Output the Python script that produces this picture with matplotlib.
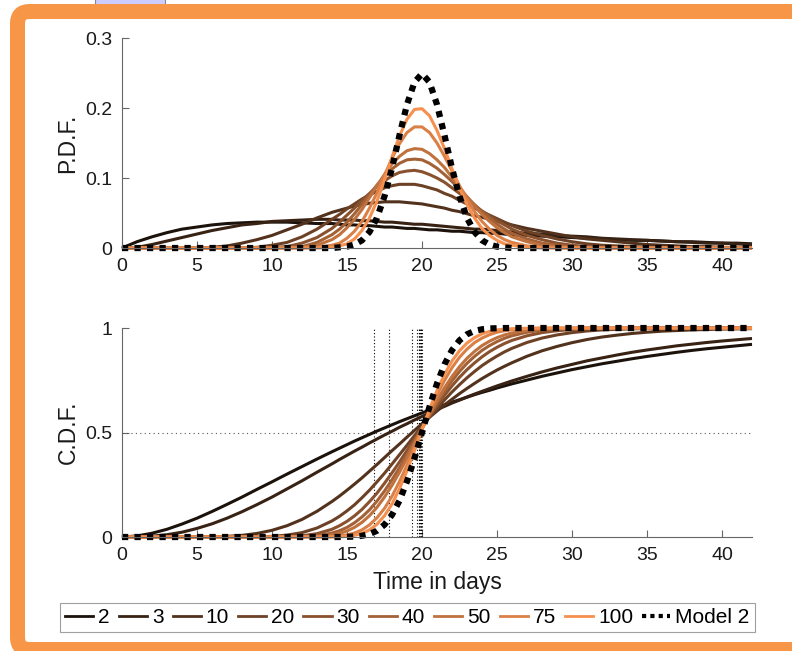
import numpy as np
import matplotlib
matplotlib.use('Agg')
import matplotlib.pyplot as plt
from matplotlib.lines import Line2D
from matplotlib.patches import FancyBboxPatch, Rectangle

plt.rcParams['font.family'] = ['Liberation Sans', 'DejaVu Sans']

x_days = [0, 1, 2, 3, 4, 5, 6, 7, 8, 9, 10, 11, 12, 13, 14, 14.5, 15, 15.5, 16, 16.5, 17, 17.5, 18, 18.5, 19, 19.5, 20, 20.5, 21, 21.5, 22, 22.5, 23, 23.5, 24, 24.5, 25, 25.5, 26, 27, 28, 29, 30, 31, 32, 33, 34, 35, 36, 37, 38, 39, 40, 41, 42]

# P.D.F. values in thousandths
pdf_2 = [0, 9, 16, 22, 27, 30, 33, 35, 36, 37, 37, 37, 36, 35, 35, 34, 33, 33, 32, 32, 31, 30, 30, 29, 28, 28, 27, 26, 26, 25, 24, 24, 23, 22, 22, 21, 21, 20, 19, 18, 17, 16, 15, 14, 13, 12, 11, 11, 10, 9, 9, 8, 7, 7, 6]
pdf_3 = [0, 1, 5, 10, 15, 20, 25, 29, 33, 35, 38, 39, 40, 41, 41, 40, 40, 40, 39, 39, 38, 37, 37, 36, 35, 34, 34, 33, 32, 31, 30, 29, 28, 27, 27, 26, 25, 24, 23, 21, 20, 18, 17, 16, 14, 13, 12, 11, 10, 9, 8, 7, 7, 6, 5]
pdf_10 = [0, 0, 0, 0, 0, 0, 1, 3, 7, 12, 18, 26, 34, 43, 51, 54, 57, 60, 62, 64, 65, 66, 66, 66, 65, 64, 63, 61, 59, 57, 54, 52, 49, 46, 44, 41, 38, 36, 33, 28, 24, 20, 16, 13, 11, 9, 7, 5, 4, 3, 2, 2, 1, 1, 1]
pdf_20 = [0, 0, 0, 0, 0, 0, 0, 0, 0, 1, 4, 8, 16, 27, 41, 48, 56, 63, 70, 76, 81, 86, 89, 91, 91, 91, 89, 86, 83, 78, 74, 68, 63, 57, 52, 47, 42, 37, 32, 24, 18, 13, 9, 6, 4, 3, 2, 1, 1, 0, 0, 0, 0, 0, 0]
pdf_30 = [0, 0, 0, 0, 0, 0, 0, 0, 0, 0, 1, 2, 7, 15, 28, 37, 47, 57, 68, 78, 88, 96, 103, 108, 110, 111, 109, 105, 100, 94, 86, 78, 70, 61, 53, 46, 39, 33, 27, 18, 12, 7, 4, 2, 1, 1, 0, 0, 0, 0, 0, 0, 0, 0, 0]
pdf_40 = [0, 0, 0, 0, 0, 0, 0, 0, 0, 0, 0, 1, 2, 8, 19, 27, 37, 49, 62, 76, 90, 102, 113, 121, 126, 127, 126, 121, 114, 105, 95, 84, 73, 62, 52, 43, 34, 27, 21, 13, 7, 4, 2, 1, 0, 0, 0, 0, 0, 0, 0, 0, 0, 0, 0]
pdf_50 = [0, 0, 0, 0, 0, 0, 0, 0, 0, 0, 0, 0, 1, 4, 12, 19, 29, 41, 55, 72, 89, 105, 120, 131, 139, 142, 141, 135, 126, 115, 101, 87, 73, 60, 48, 38, 29, 22, 16, 9, 4, 2, 1, 0, 0, 0, 0, 0, 0, 0, 0, 0, 0, 0, 0]
pdf_75 = [0, 0, 0, 0, 0, 0, 0, 0, 0, 0, 0, 0, 0, 1, 4, 7, 14, 24, 38, 57, 79, 104, 128, 149, 165, 173, 173, 165, 150, 131, 110, 89, 70, 52, 38, 27, 18, 12, 8, 3, 1, 0, 0, 0, 0, 0, 0, 0, 0, 0, 0, 0, 0, 0, 0]
pdf_100 = [0, 0, 0, 0, 0, 0, 0, 0, 0, 0, 0, 0, 0, 0, 1, 3, 6, 13, 25, 43, 67, 97, 130, 160, 184, 198, 199, 189, 168, 142, 113, 86, 62, 43, 28, 18, 11, 6, 4, 1, 0, 0, 0, 0, 0, 0, 0, 0, 0, 0, 0, 0, 0, 0, 0]
pdf_model2 = [0, 0, 0, 0, 0, 0, 0, 0, 0, 0, 0, 0, 0, 0, 0, 1, 2, 5, 11, 23, 43, 74, 114, 161, 205, 237, 249, 237, 205, 161, 114, 74, 43, 23, 11, 5, 2, 1, 0, 0, 0, 0, 0, 0, 0, 0, 0, 0, 0, 0, 0, 0, 0, 0, 0]

# C.D.F. values in thousandths
cdf_2 = [0, 5, 18, 37, 62, 90, 122, 156, 191, 228, 264, 301, 337, 373, 408, 425, 442, 459, 475, 491, 507, 522, 537, 552, 566, 580, 594, 607, 620, 633, 645, 657, 669, 681, 692, 702, 713, 723, 733, 751, 769, 785, 801, 815, 829, 841, 853, 864, 874, 884, 893, 901, 908, 915, 922]
cdf_3 = [0, 1, 4, 11, 23, 41, 63, 90, 121, 155, 191, 230, 269, 310, 350, 371, 391, 411, 430, 450, 469, 488, 506, 525, 542, 560, 577, 593, 610, 625, 641, 655, 670, 684, 697, 710, 723, 735, 747, 769, 790, 809, 826, 843, 857, 871, 884, 895, 905, 915, 923, 931, 938, 944, 950]
cdf_10 = [0, 0, 0, 0, 0, 0, 1, 3, 8, 17, 32, 54, 84, 123, 170, 196, 224, 253, 283, 315, 347, 380, 413, 445, 478, 510, 542, 573, 603, 632, 659, 686, 711, 735, 758, 779, 799, 817, 834, 865, 891, 912, 930, 945, 957, 966, 974, 980, 985, 988, 991, 993, 995, 996, 997]
cdf_20 = [0, 0, 0, 0, 0, 0, 0, 0, 0, 1, 3, 9, 21, 43, 77, 99, 125, 154, 188, 224, 264, 305, 349, 394, 439, 485, 530, 574, 616, 656, 694, 729, 762, 792, 820, 844, 866, 886, 903, 931, 952, 967, 978, 986, 991, 994, 996, 998, 999, 999, 999, 1000, 1000, 1000, 1000]
cdf_30 = [0, 0, 0, 0, 0, 0, 0, 0, 0, 0, 0, 2, 6, 16, 37, 54, 75, 101, 132, 169, 210, 257, 307, 359, 414, 469, 524, 578, 629, 678, 723, 764, 801, 833, 862, 887, 908, 926, 941, 963, 978, 987, 993, 996, 998, 999, 999, 1000, 1000, 1000, 1000, 1000, 1000, 1000, 1000]
cdf_40 = [0, 0, 0, 0, 0, 0, 0, 0, 0, 0, 0, 0, 2, 6, 19, 30, 46, 68, 96, 130, 172, 220, 274, 332, 394, 458, 521, 583, 642, 697, 747, 792, 831, 864, 893, 916, 935, 951, 963, 980, 989, 995, 997, 999, 999, 1000, 1000, 1000, 1000, 1000, 1000, 1000, 1000, 1000, 1000]
cdf_50 = [0, 0, 0, 0, 0, 0, 0, 0, 0, 0, 0, 0, 1, 3, 10, 17, 29, 46, 70, 102, 142, 191, 247, 310, 377, 448, 519, 588, 654, 714, 768, 815, 855, 888, 916, 937, 954, 967, 976, 989, 995, 998, 999, 1000, 1000, 1000, 1000, 1000, 1000, 1000, 1000, 1000, 1000, 1000, 1000]
cdf_75 = [0, 0, 0, 0, 0, 0, 0, 0, 0, 0, 0, 0, 0, 0, 2, 5, 10, 19, 34, 58, 92, 137, 195, 265, 344, 429, 515, 600, 679, 749, 810, 860, 899, 930, 952, 968, 980, 987, 992, 997, 999, 1000, 1000, 1000, 1000, 1000, 1000, 1000, 1000, 1000, 1000, 1000, 1000, 1000, 1000]
cdf_100 = [0, 0, 0, 0, 0, 0, 0, 0, 0, 0, 0, 0, 0, 0, 0, 1, 3, 8, 17, 34, 61, 102, 158, 231, 317, 413, 513, 611, 700, 778, 842, 891, 928, 954, 972, 984, 991, 995, 997, 999, 1000, 1000, 1000, 1000, 1000, 1000, 1000, 1000, 1000, 1000, 1000, 1000, 1000, 1000, 1000]
cdf_model2 = [0, 0, 0, 0, 0, 0, 0, 0, 0, 0, 0, 0, 0, 0, 0, 0, 1, 2, 6, 14, 30, 59, 106, 174, 266, 377, 500, 623, 734, 826, 894, 941, 970, 986, 994, 998, 999, 1000, 1000, 1000, 1000, 1000, 1000, 1000, 1000, 1000, 1000, 1000, 1000, 1000, 1000, 1000, 1000, 1000, 1000]

# day at which each C.D.F. reaches one half
medians = [16.78, 17.83, 19.34, 19.67, 19.78, 19.83, 19.87, 19.91, 19.93, 20]

shape_labels = ['2', '3', '10', '20', '30', '40', '50', '75', '100']
shade = ['#1c120c', '#372214', '#52321d', '#6d4125', '#89512e',
         '#a46136', '#bf713e', '#da8047', '#f5904f']

fig = plt.figure(figsize=(7.92, 6.51), dpi=100)
# slide frame behind the plots
fig.patches.append(Rectangle((95, 646), 70, 10, transform=None, facecolor='#ccccff',
                             edgecolor='#888888', lw=0.8, zorder=-2))
fig.patches.append(FancyBboxPatch((17.5, 1.5), 810, 638, transform=None,
                                  boxstyle='round,pad=0,rounding_size=12',
                                  facecolor='none', edgecolor='#f79646', lw=10.8, zorder=-1))

ax1 = fig.add_axes([0.1540, 0.6190, 0.7955, 0.3226])
ax2 = fig.add_axes([0.1540, 0.1751, 0.7955, 0.3210])
for ax in (ax1, ax2):
    ax.set_facecolor('none')
    ax.spines[['top', 'right']].set_visible(False)
    ax.spines[['left', 'bottom']].set_color('#666666')
    ax.tick_params(direction='in', length=5, color='#666666', labelsize=14,
                   labelcolor='#1a1a1a', pad=7)
    ax.set_xlim(0, 42)
    ax.set_xticks(range(0, 45, 5))

# top panel: densities
pdfs = [pdf_2, pdf_3, pdf_10, pdf_20, pdf_30, pdf_40, pdf_50, pdf_75, pdf_100]
for ys, c in zip(pdfs, shade):
    ax1.plot(x_days, np.array(ys) / 1000, color=c, lw=2.2, solid_capstyle='butt', clip_on=False)
ax1.plot(x_days, np.array(pdf_model2) / 1000, color='k', lw=4.5, ls=(0, (1, 1)), clip_on=False)
ax1.set_ylim(0, 0.3)
ax1.set_yticks([0, 0.1, 0.2, 0.3], ['0', '0.1', '0.2', '0.3'])
ax1.set_ylabel('P.D.F.', fontsize=16.5, color='#1a1a1a', labelpad=4)

# bottom panel: cumulative curves with median markers
ax2.axhline(0.5, color='#555555', lw=0.8, ls=(0, (1, 3)))
ax2.vlines(medians, 0, 1, colors='k', lw=0.8, linestyles=(0, (1, 2)))
cdfs = [cdf_2, cdf_3, cdf_10, cdf_20, cdf_30, cdf_40, cdf_50, cdf_75, cdf_100]
for ys, c in zip(cdfs, shade):
    ax2.plot(x_days, np.array(ys) / 1000, color=c, lw=2.2, solid_capstyle='butt', clip_on=False)
ax2.plot(x_days, np.array(cdf_model2) / 1000, color='k', lw=4.5, ls=(0, (1, 1)), clip_on=False)
ax2.set_ylim(0, 1)
ax2.set_yticks([0, 0.5, 1], ['0', '0.5', '1'])
ax2.set_ylabel('C.D.F.', fontsize=16.5, color='#1a1a1a', labelpad=4)
ax2.set_xlabel('Time in days', fontsize=16.5, color='#1a1a1a', labelpad=5)

handles = [Line2D([], [], color=c, lw=2) for c in shade]
handles.append(Line2D([], [], color='k', lw=3, ls=(0, (1, 1))))
leg = fig.legend(handles, shape_labels + ['Model 2'], loc='center',
                 bbox_to_anchor=(0.5145, 0.0515), ncol=10, fontsize=15,
                 handlelength=1.35, handletextpad=0.24, columnspacing=0.43,
                 fancybox=False, edgecolor='#888888', borderpad=0.25)
leg.get_frame().set_linewidth(0.8)

fig.savefig('out.png', dpi=100)
